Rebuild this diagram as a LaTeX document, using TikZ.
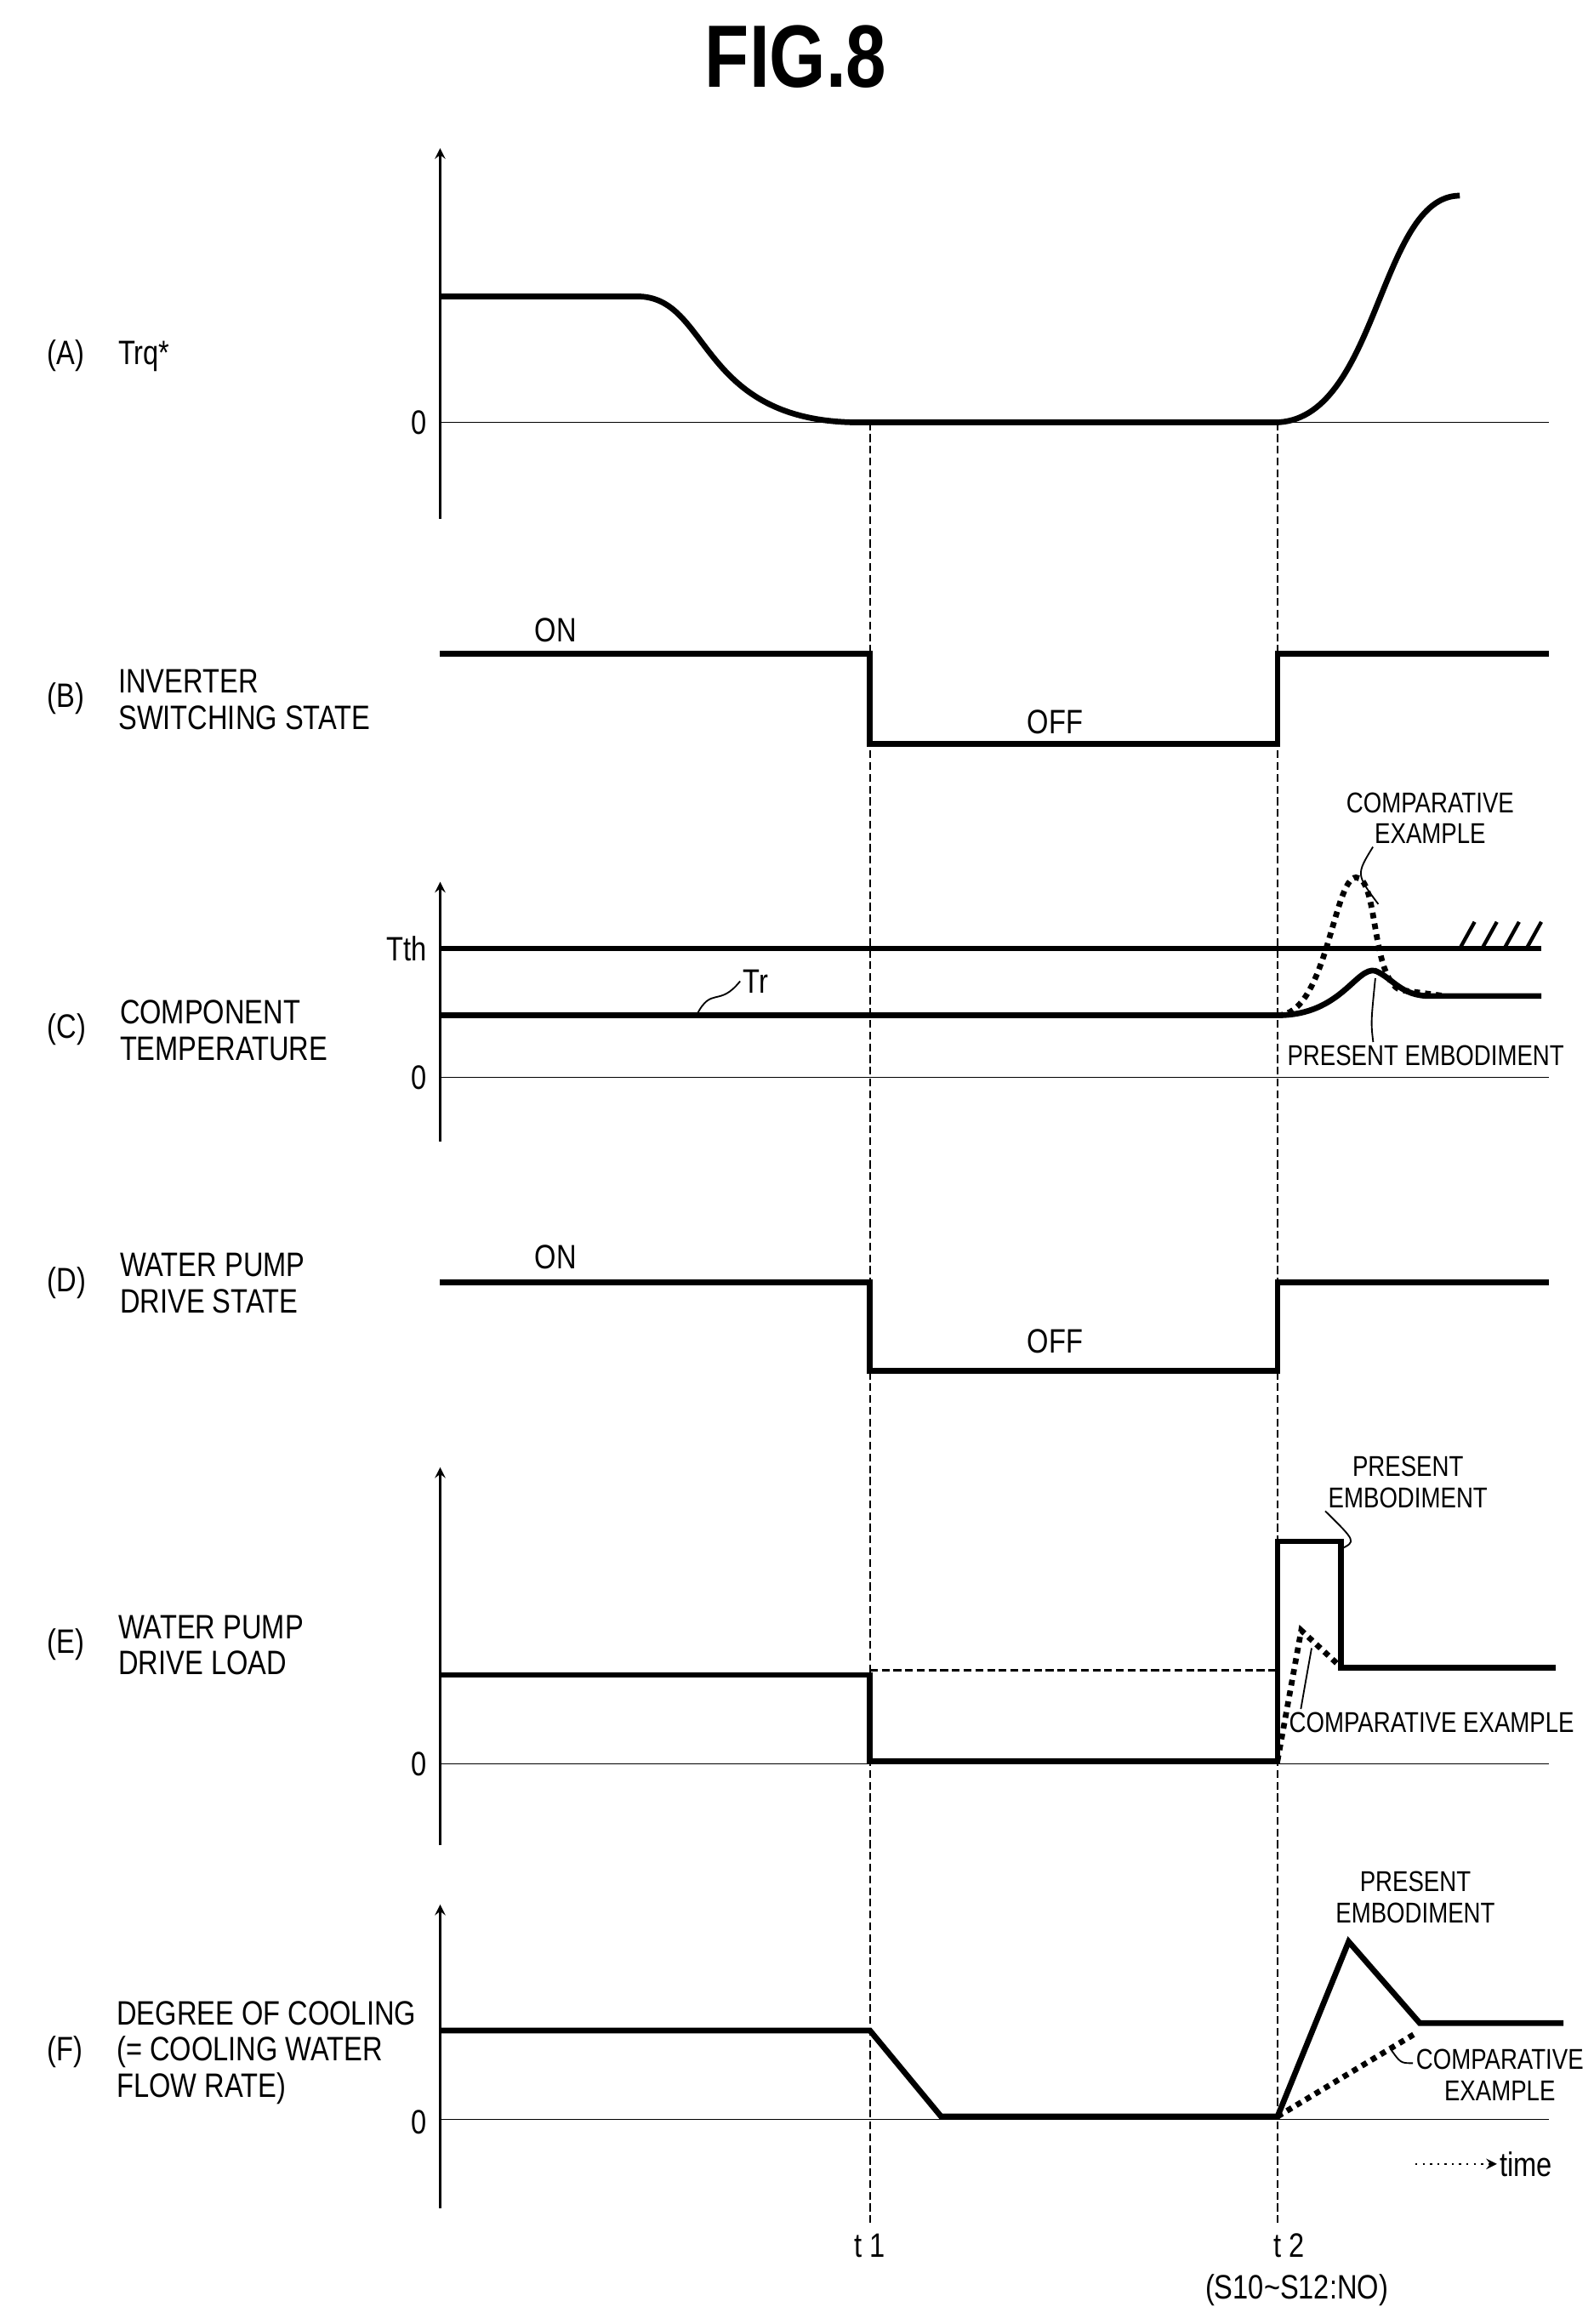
\documentclass[tikz,border=0pt]{standalone}
\usepackage{fontspec}
\setmainfont[FakeStretch=0.82]{Liberation Sans}
\usetikzlibrary{arrows, positioning}
\tikzstyle{signal} = [line width=2.2pt, line join=miter]
\tikzstyle{axis} = [line width=0.8pt, ->, >=stealth]
\tikzstyle{zero} = [line width=0.5pt]
\tikzstyle{marker} = [line width=0.8pt, dashed, dash pattern=on 3pt off 1.5pt]
\tikzstyle{compare} = [line width=2.2pt, dotted]
\tikzstyle{lbl} = [font=\fontsize{13}{14}\selectfont, inner sep=1pt, align=left]
\tikzstyle{small} = [font=\fontsize{11}{12}\selectfont, inner sep=1pt, align=center]
\tikzstyle{leader} = [line width=0.6pt]
\begin{document}
\begin{tikzpicture}[x=0.02cm, y=-0.02cm]
\useasboundingbox (0,0) rectangle (1075,1568);

\node (title) at (537,38) {\fontsize{34}{36}\selectfont\bfseries FIG.8};

% (A)
\node (labA) [lbl, anchor=west] at (30,240) {(A)\quad Trq*};
\draw[axis] (297,350) -- (297,100);
\draw[zero] (297,285) -- (1045,285);
\node (zeroA) [lbl, anchor=east] at (290,285) {0};
\draw[signal] (297,200) -- (430,200) .. controls (480,200) and (470,285) .. (580,285)
  -- (860,285) .. controls (930,285) and (930,132) .. (985,132);

% time markers
\coordinate (t1top) at (587,285);
\coordinate (t2top) at (862,285);
\coordinate (t1bot) at (587,1500);
\coordinate (t2bot) at (862,1500);
\node (t1) [lbl] at (587,1515) {t 1};
\node (t2) [lbl] at (870,1515) {t 2};
\node (cond) [lbl] at (875,1545) {(S10\textasciitilde S12:NO)};
\draw[marker] (t1top) -- (t1bot);
\draw[marker] (t2top) -- (t2bot);

% (B)
\node (labB) [lbl, anchor=west] at (30,472) {(B)\quad\parbox[c]{6cm}{INVERTER\\SWITCHING STATE}};
\draw[signal] (297,441) -- (587,441) -- (587,502) -- (862,502) -- (862,441) -- (1045,441);
\node (onB) [lbl] at (375,425) {ON};
\node (offB) [lbl] at (712,487) {OFF};

% (C)
\node (labC) [lbl, anchor=west] at (30,695) {(C)\quad\parbox[c]{6cm}{COMPONENT\\TEMPERATURE}};
\draw[axis] (297,770) -- (297,595);
\draw[zero] (297,727) -- (1045,727);
\node (zeroC) [lbl, anchor=east] at (290,727) {0};
\node (tth) [lbl, anchor=east] at (290,640) {Tth};
\draw[signal] (297,640) -- (1040,640);
\foreach \hx in {985,1000,...,1030}
  \draw[line width=1.4pt] (\hx,640) -- (\hx+10,622);
\draw[signal] (297,685) -- (862,685) .. controls (905,685) and (915,652) .. (928,655)
  .. controls (940,660) and (945,672) .. (965,672) -- (1040,672);
\draw[compare] (862,685) .. controls (895,685) and (900,592) .. (915,592)
  .. controls (930,592) and (925,660) .. (945,668) -- (975,672);
\node (tr) [lbl] at (510,662) {Tr};
\draw[leader] (470,685) .. controls (480,665) and (485,680) .. (tr.west);
\node (cmpC) [small] at (965,552) {COMPARATIVE\\EXAMPLE};
\draw[leader] (cmpC.south west) ++(20,0) .. controls (915,590) .. (930,610);
\node (preC) [small] at (962,712) {PRESENT EMBODIMENT};
\draw[leader] (preC.north west) ++(60,0) .. controls (925,690) .. (928,660);

% (D)
\node (labD) [lbl, anchor=west] at (30,866) {(D)\quad\parbox[c]{6cm}{WATER PUMP\\DRIVE STATE}};
\draw[signal] (297,865) -- (587,865) -- (587,925) -- (862,925) -- (862,865) -- (1045,865);
\node (onD) [lbl] at (375,848) {ON};
\node (offD) [lbl] at (712,905) {OFF};

% (E)
\node (labE) [lbl, anchor=west] at (30,1110) {(E)\quad\parbox[c]{6cm}{WATER PUMP\\DRIVE LOAD}};
\draw[axis] (297,1245) -- (297,990);
\draw[zero] (297,1190) -- (1045,1190);
\node (zeroE) [lbl, anchor=east] at (290,1190) {0};
\draw[marker] (587,1127) -- (862,1127);
\draw[signal] (297,1130) -- (587,1130) -- (587,1188) -- (862,1188) -- (862,1040)
  -- (905,1040) -- (905,1125) -- (1050,1125);
\draw[compare] (862,1188) -- (878,1100) -- (905,1125);
\node (preE) [small] at (950,1000) {PRESENT\\EMBODIMENT};
\draw[leader] (905,1045) .. controls (915,1040) .. (preE.south west);
\node (cmpE) [small] at (966,1162) {COMPARATIVE EXAMPLE};
\draw[leader] (cmpE.north west) ++(10,0) .. controls (880,1140) .. (885,1112);

% (F)
\node (labF) [lbl, anchor=west] at (30,1385) {(F)\quad\parbox[c]{6cm}{DEGREE OF COOLING\\(= COOLING WATER\\FLOW RATE)}};
\draw[axis] (297,1490) -- (297,1285);
\draw[zero] (297,1430) -- (1045,1430);
\node (zeroF) [lbl, anchor=east] at (290,1432) {0};
\draw[signal] (297,1370) -- (587,1370) -- (635,1428) -- (862,1428) -- (910,1310)
  -- (958,1365) -- (1055,1365);
\draw[compare] (862,1428) -- (955,1372);
\node (preF) [small] at (955,1280) {PRESENT\\EMBODIMENT};
\node (cmpF) [small] at (1012,1400) {COMPARATIVE\\EXAMPLE};
\draw[leader] (cmpF.west) ++(0,-8) .. controls (945,1392) .. (938,1382);
\node (time) [lbl, anchor=west] at (1010,1460) {time};
\draw[line width=0.8pt, dotted, ->, >=stealth] (955,1460) -- (time.west);

\end{tikzpicture}
\end{document}
